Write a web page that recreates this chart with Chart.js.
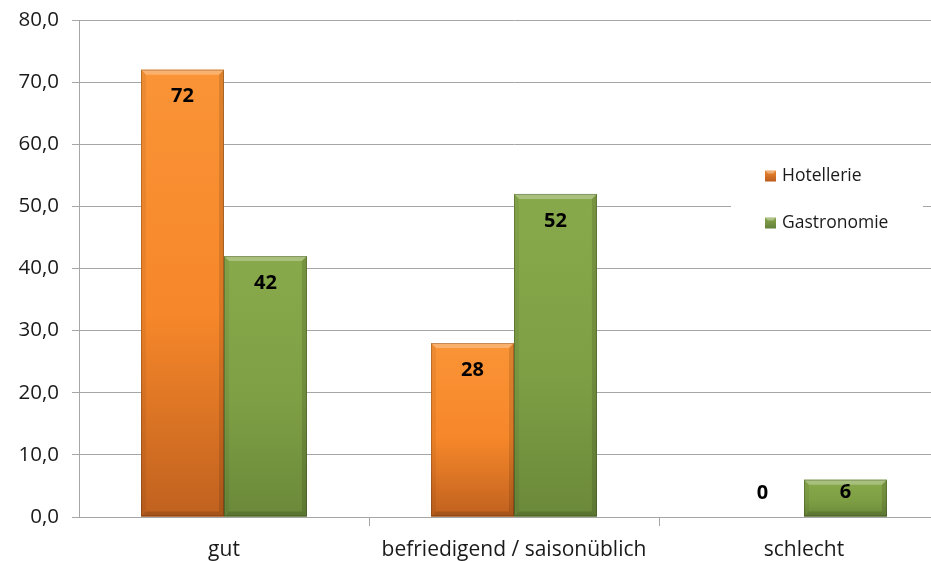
<!DOCTYPE html>
<html>
<head>
<meta charset="utf-8">
<script src="https://cdn.jsdelivr.net/npm/chart.js@4.4.1/dist/chart.umd.min.js"></script>
<style>
html,body{margin:0;padding:0;background:#fff;overflow:hidden;}
#wrap{position:relative;width:960px;height:561px;}
</style>
</head>
<body>
<div id="wrap"><canvas id="c"></canvas></div>
<script>
const categories = ['gut', 'befriedigend / saisonüblich', 'schlecht'];
const seriesNames = ['Hotellerie', 'Gastronomie'];
const hotellerie = [72, 28, 0];
const gastronomie = [42, 52, 6];
const yTicks = {min: 0, max: 80, step: 10};

const FONT = '"Open Sans", sans-serif';
const palettes = [
  {top: '#FA9436', mid: '#F6872A', bottom: '#C0611F', legTop: '#F08a30', legBottom: '#B85A1C'},
  {top: '#88A94B', mid: '#7F9F45', bottom: '#6B893A', legTop: '#8aa84c', legBottom: '#62803a'}
];

const legendBox = {
  id: 'legendBox',
  beforeDatasetsDraw(chart) {
    const ctx = chart.ctx;
    ctx.save();
    ctx.fillStyle = '#ffffff';
    ctx.fillRect(731, 150, 192, 112);
    const items = chart.data.datasets;
    const ys = [176, 223];
    items.forEach((ds, i) => {
      const p = palettes[i];
      const y = ys[i];
      const g = ctx.createLinearGradient(0, y - 6, 0, y + 6);
      g.addColorStop(0, p.legTop);
      g.addColorStop(1, p.legBottom);
      ctx.fillStyle = g;
      ctx.fillRect(765, y - 5.5, 11, 11);
      ctx.fillStyle = 'rgba(255,255,255,0.35)';
      ctx.beginPath();
      ctx.moveTo(765, y - 5.5); ctx.lineTo(776, y - 5.5); ctx.lineTo(773, y - 2.5); ctx.lineTo(768, y - 2.5); ctx.closePath();
      ctx.fill();
      ctx.fillStyle = '#1a1a1a';
      ctx.font = '17.5px ' + FONT;
      ctx.textBaseline = 'middle';
      ctx.textAlign = 'left';
      ctx.fillText(ds.label, 782, y);
    });
    ctx.restore();
  }
};

const bevel = {
  id: 'bevel',
  afterDatasetsDraw(chart) {
    const ctx = chart.ctx;
    ctx.save();
    chart.data.datasets.forEach((ds, di) => {
      const meta = chart.getDatasetMeta(di);
      const p = palettes[di];
      meta.data.forEach((bar, i) => {
        const v = ds.data[i];
        const w = bar.width;
        const l = bar.x - w / 2, r = bar.x + w / 2;
        const t = bar.y, b = bar.base;
        if (b - t > 1) {
          const g = ctx.createLinearGradient(0, t, 0, b);
          g.addColorStop(0, p.top);
          g.addColorStop(0.55, p.mid);
          g.addColorStop(1, p.bottom);
          ctx.fillStyle = g;
          ctx.fillRect(l, t, w, b - t);
          const e = Math.min(5, (b - t) / 3);
          ctx.fillStyle = 'rgba(255,255,255,0.28)';
          ctx.beginPath();
          ctx.moveTo(l, t); ctx.lineTo(r, t); ctx.lineTo(r - e, t + e); ctx.lineTo(l + e, t + e); ctx.closePath(); ctx.fill();
          ctx.fillStyle = 'rgba(0,0,0,0.05)';
          ctx.beginPath();
          ctx.moveTo(l, t); ctx.lineTo(l + e, t + e); ctx.lineTo(l + e, b - e); ctx.lineTo(l, b); ctx.closePath(); ctx.fill();
          ctx.fillStyle = 'rgba(0,0,0,0.12)';
          ctx.beginPath();
          ctx.moveTo(r, t); ctx.lineTo(r - e, t + e); ctx.lineTo(r - e, b - e); ctx.lineTo(r, b); ctx.closePath(); ctx.fill();
          ctx.fillStyle = 'rgba(0,0,0,0.14)';
          ctx.beginPath();
          ctx.moveTo(l, b); ctx.lineTo(l + e, b - e); ctx.lineTo(r - e, b - e); ctx.lineTo(r, b); ctx.closePath(); ctx.fill();
          ctx.strokeStyle = 'rgba(0,0,0,0.22)';
          ctx.lineWidth = 1;
          ctx.strokeRect(l + 0.5, t + 0.5, w - 1, b - t - 1);
        }
        const y = Math.min(t + 27, b - 24);
        ctx.fillStyle = '#000';
        ctx.font = 'bold 20px ' + FONT;
        ctx.textAlign = 'center';
        ctx.textBaseline = 'middle';
        ctx.fillText(String(v), bar.x, y);
      });
    });
    ctx.restore();
  }
};

const ctxEl = document.getElementById('c');
new Chart(ctxEl, {
  type: 'bar',
  data: {
    labels: categories,
    datasets: [
      {label: seriesNames[0], data: hotellerie, backgroundColor: palettes[0].mid},
      {label: seriesNames[1], data: gastronomie, backgroundColor: palettes[1].mid}
    ]
  },
  options: {
    responsive: true,
    maintainAspectRatio: false,
    animation: false,
    devicePixelRatio: 1,
    layout: {padding: {left: 0, top: 20, right: 11, bottom: 0}},
    plugins: {legend: {display: false}, tooltip: {enabled: false}},
    datasets: {bar: {categoryPercentage: 0.572, barPercentage: 1.0, borderWidth: 0}},
    scales: {
      x: {
        offset: true,
        grid: {offset: true, drawOnChartArea: false, drawTicks: true, tickLength: 9,
               color: (c) => c.index === 0 ? 'rgba(0,0,0,0)' : '#a6a6a6', lineWidth: 1},
        border: {display: true, color: '#a6a6a6', width: 1},
        ticks: {color: '#1a1a1a', font: {family: FONT, size: 21}, padding: 11, maxRotation: 0, autoSkip: false},
        afterFit: (s) => { s.height = 44; s.paddingLeft = 0; s.paddingRight = 0; }
      },
      y: {
        min: yTicks.min, max: yTicks.max,
        grid: {color: '#a6a6a6', lineWidth: 1, drawTicks: true, tickLength: 7},
        border: {display: true, color: '#a6a6a6', width: 1},
        ticks: {stepSize: yTicks.step, color: '#1a1a1a', font: {family: FONT, size: 20.5}, padding: 13,
                callback: (v) => v.toFixed(1).replace('.', ',')},
        afterFit: (s) => { s.width = 79; s.paddingTop = 0; s.paddingBottom = 0; }
      }
    }
  },
  plugins: [legendBox, bevel]
});
</script>
</body>
</html>
